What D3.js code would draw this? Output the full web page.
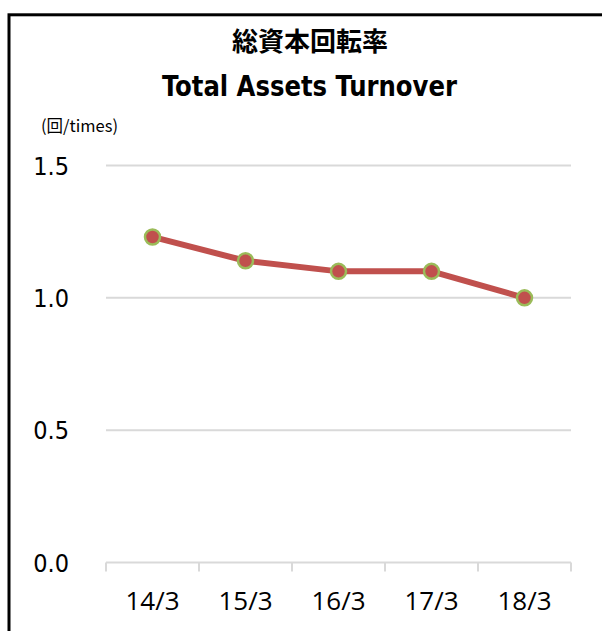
<!DOCTYPE html>
<html>
<head>
<meta charset="utf-8">
<script src="https://cdn.jsdelivr.net/npm/d3@7"></script>
<style>
  body { margin: 0; background: #fff; }
</style>
</head>
<body>
<svg width="602" height="631"></svg>
<script>
// data
const categories = ["14/3", "15/3", "16/3", "17/3", "18/3"];
const turnover = [1.23, 1.14, 1.10, 1.10, 1.00];
const yTicks = [0, 0.5, 1.0, 1.5];

const svg = d3.select("svg");
const margin = { top: 165.5, left: 106 };
const innerWidth = 465;
const innerHeight = 397;

// outer frame, runs past the right/bottom edge
svg.append("rect")
  .attr("x", 9).attr("y", 14.8)
  .attr("width", 620).attr("height", 640)
  .attr("fill", "none")
  .attr("stroke", "#000")
  .attr("stroke-width", 3);

// titles
svg.append("text")
  .attr("x", 310).attr("y", 51)
  .attr("text-anchor", "middle")
  .attr("font-family", "Noto Sans CJK JP")
  .attr("font-weight", "bold")
  .attr("font-size", "26px")
  .text("総資本回転率");
svg.append("text")
  .attr("x", 309.5).attr("y", 96)
  .attr("text-anchor", "middle")
  .attr("font-family", "DejaVu Sans Condensed, DejaVu Sans")
  .attr("font-weight", "bold")
  .attr("font-size", "28px")
  .attr("textLength", 295)
  .attr("lengthAdjust", "spacingAndGlyphs")
  .text("Total Assets Turnover");
svg.append("text")
  .attr("x", 41).attr("y", 132)
  .attr("font-family", "Noto Sans CJK JP")
  .attr("font-size", "16.5px")
  .text("(回/times)");

const xScale = d3.scaleBand().domain(categories).range([0, innerWidth]);
const yScale = d3.scaleLinear().domain([0, 1.5]).range([innerHeight, 0]);

const g = svg.append("g")
  .attr("transform", `translate(${margin.left},${margin.top})`);

// gridlines
g.append("g")
  .selectAll("line")
  .data(yTicks.filter((d) => d > 0))
  .enter()
  .append("line")
  .attr("x1", 0).attr("x2", innerWidth)
  .attr("y1", (d) => yScale(d)).attr("y2", (d) => yScale(d))
  .attr("stroke", "#d9d9d9")
  .attr("stroke-width", 2);

// y labels
g.append("g")
  .selectAll("text")
  .data(yTicks)
  .enter()
  .append("text")
  .attr("x", -37)
  .attr("y", (d) => yScale(d))
  .attr("dy", "0.36em")
  .attr("text-anchor", "end")
  .attr("font-family", "DejaVu Sans Condensed, DejaVu Sans")
  .attr("font-size", "25px")
  .attr("fill", "#000")
  .text((d) => d3.format(".1f")(d));

// x axis with ticks between categories
const xAxisG = g.append("g").attr("transform", `translate(0,${innerHeight})`);
xAxisG.append("line")
  .attr("x1", 0).attr("x2", innerWidth)
  .attr("stroke", "#d9d9d9").attr("stroke-width", 2);
const bounds = categories.map((c) => xScale(c)).concat([innerWidth]);
xAxisG.selectAll(".tick")
  .data(bounds)
  .enter()
  .append("line")
  .attr("x1", (d) => d).attr("x2", (d) => d)
  .attr("y1", 0).attr("y2", 9)
  .attr("stroke", "#d9d9d9").attr("stroke-width", 2);
xAxisG.selectAll("text")
  .data(categories)
  .enter()
  .append("text")
  .attr("x", (d) => xScale(d) + xScale.bandwidth() / 2)
  .attr("y", 47)
  .attr("text-anchor", "middle")
  .attr("font-family", "Open Sans")
  .attr("font-size", "26px")
  .text((d) => d);

// line + markers
const points = categories.map((c, i) => ({ cat: c, value: turnover[i] }));
const line = d3.line()
  .x((d) => xScale(d.cat) + xScale.bandwidth() / 2)
  .y((d) => yScale(d.value));

g.append("path")
  .datum(points)
  .attr("d", line)
  .attr("fill", "none")
  .attr("stroke", "#C0504D")
  .attr("stroke-width", 6)
  .attr("stroke-linejoin", "round");

g.selectAll(".dot")
  .data(points)
  .enter()
  .append("circle")
  .attr("cx", (d) => xScale(d.cat) + xScale.bandwidth() / 2)
  .attr("cy", (d) => yScale(d.value))
  .attr("r", 7.5)
  .attr("fill", "#C0504D")
  .attr("stroke", "#9BBB59")
  .attr("stroke-width", 2.5);
</script>
</body>
</html>
